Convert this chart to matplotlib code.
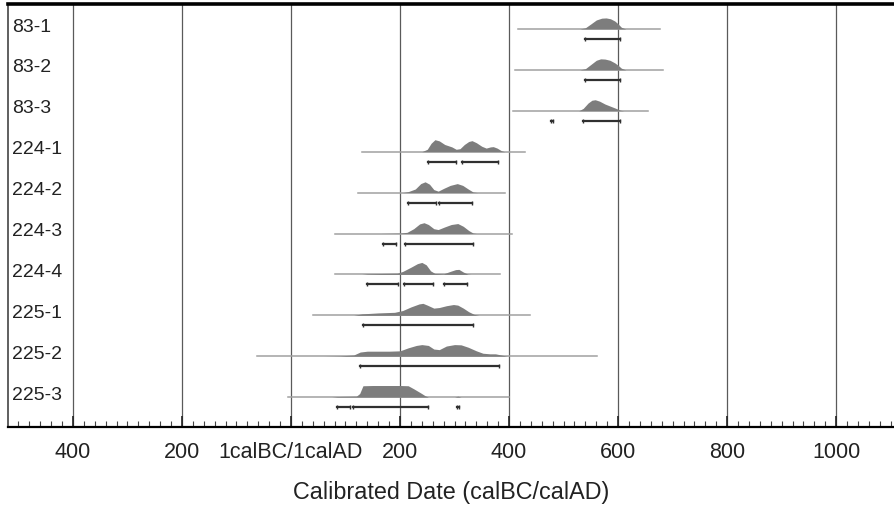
import matplotlib.pyplot as plt
from matplotlib.ticker import MultipleLocator, FuncFormatter
import numpy as np

plt.rcParams['font.family'] = ['Liberation Sans', 'DejaVu Sans']

labels = ['83-1', '83-2', '83-3', '224-1', '224-2', '224-3', '224-4', '225-1', '225-2', '225-3']

# faint likelihood line extent (calAD, negative = BC)
prior_lo = [417, 411, 407, 130, 123, 81, 81, 40, -62, -5]
prior_hi = [677, 682, 655, 429, 393, 405, 384, 439, 561, 400]

# posterior shapes: year knots and relative density
d83_1_x = [530, 540, 550, 560, 570, 578, 586, 594, 600, 606, 614]
d83_1_y = [0, 0.1, 0.42, 0.75, 0.9, 0.92, 0.85, 0.66, 0.42, 0.14, 0]
d83_2_x = [530, 540, 550, 560, 568, 576, 585, 594, 600, 606, 614]
d83_2_y = [0, 0.1, 0.45, 0.8, 0.92, 0.9, 0.8, 0.58, 0.38, 0.14, 0]
d83_3_x = [528, 536, 545, 552, 558, 566, 576, 586, 596, 604, 610]
d83_3_y = [0, 0.2, 0.65, 0.88, 0.92, 0.8, 0.56, 0.38, 0.2, 0.05, 0]
d224_1_x = [240, 250, 257, 264, 272, 282, 295, 303, 310, 318, 326, 332, 340, 350, 358, 366, 371, 378, 386, 392]
d224_1_y = [0, 0.2, 0.7, 1.0, 0.9, 0.6, 0.4, 0.2, 0.25, 0.6, 0.85, 0.92, 0.75, 0.45, 0.3, 0.4, 0.42, 0.3, 0.08, 0]
d224_2_x = [205, 215, 228, 238, 246, 254, 262, 270, 280, 292, 305, 315, 325, 334, 342]
d224_2_y = [0, 0.08, 0.3, 0.75, 0.9, 0.7, 0.25, 0.12, 0.35, 0.6, 0.75, 0.6, 0.3, 0.05, 0]
d224_3_x = [165, 200, 213, 225, 236, 244, 252, 262, 270, 282, 294, 306, 316, 326, 334, 340]
d224_3_y = [0, 0.03, 0.1, 0.4, 0.8, 0.9, 0.75, 0.4, 0.33, 0.55, 0.75, 0.83, 0.6, 0.25, 0.04, 0]
d224_4_x = [130, 140, 170, 195, 205, 220, 232, 240, 248, 256, 264, 280, 292, 302, 308, 316, 324, 330]
d224_4_y = [0, 0.05, 0.08, 0.1, 0.25, 0.6, 0.9, 1.0, 0.8, 0.3, 0.08, 0.05, 0.25, 0.4, 0.42, 0.2, 0.03, 0]
d225_1_x = [115, 130, 160, 190, 205, 220, 235, 242, 250, 262, 272, 285, 298, 306, 316, 326, 336, 345]
d225_1_y = [0, 0.12, 0.2, 0.25, 0.4, 0.7, 0.95, 1.0, 0.85, 0.6, 0.65, 0.8, 0.9, 0.85, 0.6, 0.3, 0.08, 0]
d225_2_x = [60, 90, 115, 127, 140, 180, 200, 215, 230, 240, 252, 262, 272, 285, 300, 312, 325, 340, 352, 365, 375, 388, 398]
d225_2_y = [0, 0.03, 0.1, 0.35, 0.42, 0.42, 0.45, 0.7, 0.9, 0.97, 0.9, 0.6, 0.55, 0.85, 0.97, 0.95, 0.75, 0.45, 0.25, 0.2, 0.2, 0.08, 0]
d225_3_x = [75, 85, 120, 126, 132, 150, 200, 215, 225, 238, 246, 252, 300, 306, 312]
d225_3_y = [0, 0.05, 0.08, 0.3, 0.95, 0.97, 0.97, 0.95, 0.7, 0.35, 0.12, 0, 0, 0.08, 0]

dist_x = [d83_1_x, d83_2_x, d83_3_x, d224_1_x, d224_2_x, d224_3_x, d224_4_x, d225_1_x, d225_2_x, d225_3_x]
dist_y = [d83_1_y, d83_2_y, d83_3_y, d224_1_y, d224_2_y, d224_3_y, d224_4_y, d225_1_y, d225_2_y, d225_3_y]

# 95.4% ranges
ranges = [
    [(539, 604)],
    [(540, 603)],
    [(477, 481), (536, 604)],
    [(251, 303), (314, 380)],
    [(215, 266), (272, 332)],
    [(169, 193), (209, 334)],
    [(139, 196), (207, 261), (281, 323)],
    [(133, 334)],
    [(127, 382)],
    [(84, 108), (114, 251), (304, 308)],
]

tick_years = [-400, -200, 0, 200, 400, 600, 800, 1000]

fig = plt.figure(figsize=(8.94, 5.06), dpi=100)
ax = fig.add_axes([8 / 894, 1 - 428 / 506, 886 / 894, 423 / 506])

hscale = 0.293
boff = 0.245
for i in range(len(labels)):
    ax.plot([prior_lo[i], prior_hi[i]], [i, i], color='#a0a0a0', lw=1.1, zorder=2)
    y = np.array(dist_y[i])
    ax.fill_between(dist_x[i], i, i - y * hscale, color='#7d7d7d', lw=0, zorder=3)
    for lo, hi in ranges[i]:
        ax.plot([lo, hi], [i + boff, i + boff], color='#303030', lw=1.6,
                marker='|', markersize=3, mew=1.0, zorder=4)
    ax.text(0.005, i - 0.07, labels[i], transform=ax.get_yaxis_transform(),
            fontsize=14, color='#222222', va='center', ha='left')

ax.set_xlim(-519, 1106)
ax.set_ylim(9.73, -0.61)
ax.set_yticks([])

ax.set_xticks(tick_years)
ax.xaxis.set_minor_locator(MultipleLocator(20))
ax.xaxis.set_major_formatter(FuncFormatter(lambda v, p: '1calBC/1calAD' if v == 0 else str(int(abs(v)))))
ax.tick_params(axis='x', which='major', direction='in', length=8, width=1.2, labelsize=15.5,
               pad=10, colors='#222222')
ax.tick_params(axis='x', which='minor', direction='in', length=4, width=0.8, color='#444444')
for v in tick_years:
    ax.axvline(v, color='#5a5a5a', lw=0.9, zorder=1)

ax.spines['right'].set_visible(False)
ax.spines['top'].set_linewidth(2.6)
ax.spines['bottom'].set_linewidth(1.6)
ax.spines['left'].set_linewidth(1.2)
ax.spines['left'].set_color('#444444')

ax.set_xlabel('Calibrated Date (calBC/calAD)', fontsize=16.8, color='#222222', labelpad=13)

fig.savefig('out.png', dpi=100)
